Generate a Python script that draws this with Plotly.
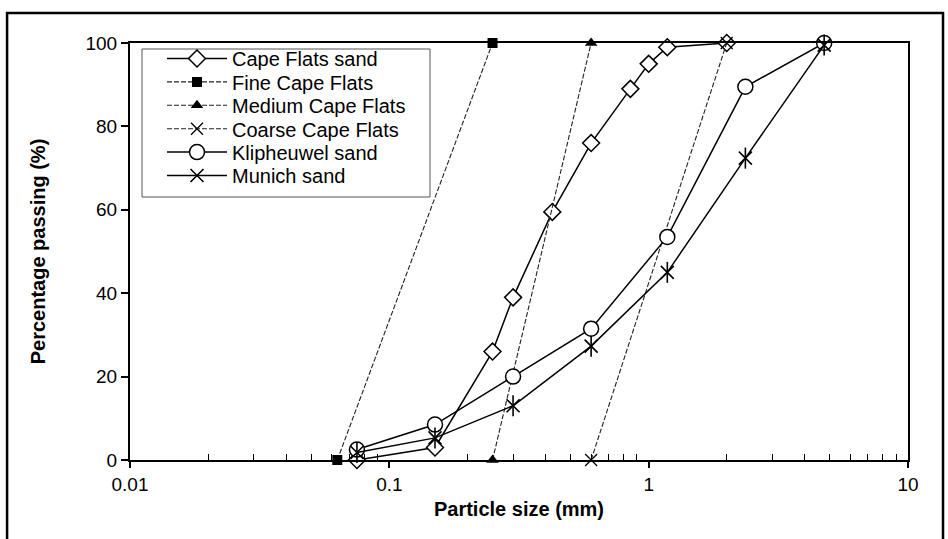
import plotly.graph_objects as go

# ---- data ----
cape_x = [0.075, 0.15, 0.25, 0.3, 0.425, 0.6, 0.85, 1.0, 1.18, 2.0]
cape_y = [0, 3, 26, 39, 59.5, 76, 89, 95, 99, 100]

fine_x = [0.063, 0.25]
fine_y = [0, 100]

medium_x = [0.25, 0.6]
medium_y = [0, 100]

coarse_x = [0.6, 2.0]
coarse_y = [0, 100]

klip_x = [0.075, 0.15, 0.3, 0.6, 1.18, 2.36, 4.75]
klip_y = [2.5, 8.5, 20, 31.5, 53.5, 89.5, 100]

munich_x = [0.075, 0.15, 0.3, 0.6, 1.18, 2.36, 4.75]
munich_y = [1.8, 5.3, 13, 27.3, 45, 72.4, 99.5]

x_tickvals = [0.01, 0.1, 1, 10]
x_ticktext = ["0.01", "0.1", "1", "10"]
x_minor_tickvals = [m * d for d in (0.01, 0.1, 1) for m in range(2, 10)]
y_tickvals = [0, 20, 40, 60, 80, 100]

FONT = "Arial, Liberation Sans, sans-serif"

# plot area in pixels (for placing legend rows)
PL, PR, PT, PB = 130, 908, 43, 460


def px_x(p):
    return (p - PL) / (PR - PL)


def px_y(p):
    return (PB - p) / (PB - PT)


fig = go.Figure()

solid = dict(color="black", width=1.5)
thin = dict(color="#222", width=1.1, dash="5px,2px")

series = [
    dict(x=cape_x, y=cape_y, name="Cape Flats sand", line=solid,
         marker=dict(symbol="diamond", size=13, color="white",
                     line=dict(color="black", width=1.5))),
    dict(x=fine_x, y=fine_y, name="Fine Cape Flats", line=thin,
         marker=dict(symbol="square", size=10, color="black")),
    dict(x=medium_x, y=medium_y, name="Medium Cape Flats", line=thin,
         marker=dict(symbol="triangle-up", size=11, color="black")),
    dict(x=coarse_x, y=coarse_y, name="Coarse Cape Flats", line=thin,
         marker=dict(symbol="x-thin-open", size=12, color="black",
                     line=dict(color="black", width=1.3))),
    dict(x=klip_x, y=klip_y, name="Klipheuwel sand", line=solid,
         marker=dict(symbol="circle", size=15, color="white",
                     line=dict(color="black", width=1.5))),
    dict(x=munich_x, y=munich_y, name="Munich sand", line=solid,
         marker=dict(symbol="x-thin-open", size=13, color="black",
                     line=dict(color="black", width=1.6))),
]

row_top = 58.5
row_gap = 23.4
legend_layouts = {}
for i, s in enumerate(series):
    lname = "legend" if i == 0 else f"legend{i + 1}"
    fig.add_trace(go.Scatter(
        x=s["x"], y=s["y"], name=s["name"], mode="lines+markers",
        line=s["line"], marker=s["marker"], cliponaxis=False,
        legend=lname, legendgroup=s["name"]))
    legend_layouts[lname] = dict(
        x=px_x(162), y=px_y(row_top + i * row_gap),
        xanchor="left", yanchor="middle",
        bgcolor="rgba(0,0,0,0)", borderwidth=0,
        font=dict(family=FONT, size=20, color="black"),
        itemwidth=60)

# vertical bar of the Munich asterisk marker
fig.add_trace(go.Scatter(
    x=munich_x, y=munich_y, name="Munich sand", mode="markers",
    legendgroup="Munich sand", showlegend=False,
    marker=dict(symbol="line-ns-open", size=15, color="black",
                line=dict(color="black", width=1.6)),
    cliponaxis=False))

fig.update_layout(
    width=948, height=539,
    margin=dict(l=PL, r=948 - PR, t=PT, b=539 - PB),
    paper_bgcolor="white", plot_bgcolor="white",
    font=dict(family=FONT, size=19, color="black"),
    showlegend=True,
    xaxis=dict(
        type="log", range=[-2, 1],
        tickvals=x_tickvals, ticktext=x_ticktext,
        ticks="outside", ticklen=6, tickwidth=1.5, tickcolor="black",
        minor=dict(tickvals=x_minor_tickvals, ticks="inside", ticklen=6,
                   tickwidth=1, tickcolor="black", showgrid=False),
        showgrid=False, zeroline=False,
        showline=True, linecolor="black", linewidth=2, mirror=True,
        title=dict(text="<b>Particle size (mm)</b>", font=dict(size=20), standoff=8),
        tickfont=dict(size=19),
    ),
    yaxis=dict(
        range=[0, 100], tickvals=y_tickvals,
        ticks="outside", ticklen=7, tickwidth=1.5, tickcolor="black",
        showgrid=False, zeroline=False,
        showline=True, linecolor="black", linewidth=2, mirror=True,
        title=dict(text="<b>Percentage passing (%)</b>", font=dict(size=20), standoff=34),
        tickfont=dict(size=19),
    ),
    shapes=[
        dict(type="rect", xref="paper", yref="paper",
             x0=-0.158, x1=1.045, y0=-0.4, y1=1.072,
             line=dict(color="black", width=2.5), layer="below"),
        dict(type="rect", xref="paper", yref="paper",
             x0=px_x(142), x1=px_x(430), y0=px_y(197), y1=px_y(49),
             line=dict(color="#555", width=1), fillcolor="white", layer="below"),
    ],
    **legend_layouts,
)

fig.write_html("out.html")
